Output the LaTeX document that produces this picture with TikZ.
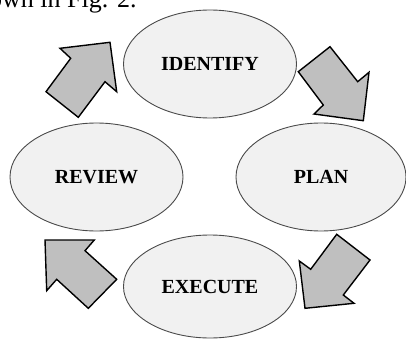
\documentclass[tikz,border=0pt]{standalone}
\usepackage{fontspec}
\setmainfont{Liberation Serif}
\usetikzlibrary{shapes.geometric}
\definecolor{stagefill}{HTML}{F1F1F1}
\definecolor{stageline}{HTML}{4A4A4A}
\definecolor{arrowfill}{HTML}{BFBFBF}
\begin{document}
\begin{tikzpicture}[x=1pt,y=-1pt,
  stage/.style={ellipse, draw=stageline, line width=0.9pt, fill=stagefill,
    inner sep=0pt, minimum width=173pt, minimum height=108pt,
    font=\fontsize{20pt}{22pt}\selectfont\bfseries},
  blockarrow/.style={draw=black, line width=1.4pt, fill=arrowfill, line join=miter}]
\useasboundingbox (0,0) rectangle (406,339);
\clip (0,0) rectangle (406,339);

% running text above the figure
\node[anchor=base west, inner sep=0pt, font=\fontsize{26pt}{28pt}\selectfont] (caption) at (-11,7.5) {own in Fig. 2.};

% the four stages of the cycle
\node[stage] (identify) at (210,64) {IDENTIFY};
\node[stage, minimum width=170pt] (plan) at (321,177) {PLAN};
\node[stage] (review) at (96.5,177) {REVIEW};
\node[stage, minimum height=103pt] (execute) at (210,286.5) {EXECUTE};

% block arrows between consecutive stages
% review -> identify
\draw[blockarrow] (110,42.3) -- (60,48.3) -- (70.7,58.3) -- (46,91.7) -- (78.3,117.3)
  -- (105,81.7) -- (116.7,91.7) -- cycle;
% identify -> plan
\draw[blockarrow] (363.3,120.7) -- (369,72.3) -- (357.7,81.7) -- (330,46.7) -- (298.3,71.7)
  -- (323.3,105) -- (314,114) -- cycle;
% plan -> execute
\draw[blockarrow] (305,308.3) -- (354,303.3) -- (343.3,295) -- (370,260) -- (336.7,234.3)
  -- (310.7,269.3) -- (299.3,261) -- cycle;
% execute -> review
\draw[blockarrow] (45,240) -- (46.7,290.7) -- (56.7,279.3) -- (88.3,308.3) -- (116.7,279.3)
  -- (85,250.7) -- (94.3,240) -- cycle;
\end{tikzpicture}
\end{document}
